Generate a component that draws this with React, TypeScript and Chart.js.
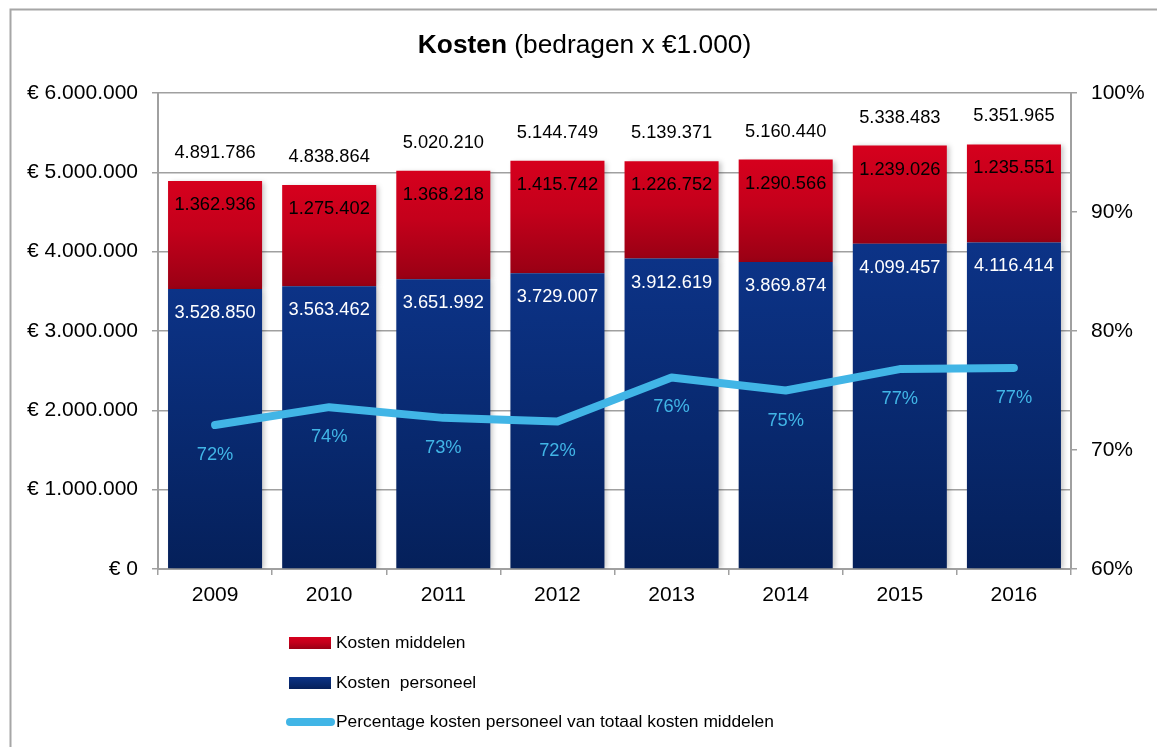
import React, { useEffect, useRef } from "react";
import { Chart, registerables } from "chart.js";

Chart.register(...registerables);

const years = ["2009", "2010", "2011", "2012", "2013", "2014", "2015", "2016"];
const kostenPersoneel = [3528850, 3563462, 3651992, 3729007, 3912619, 3869874, 4099457, 4116414];
const kostenMiddelen = [1362936, 1275402, 1368218, 1415742, 1226752, 1290566, 1239026, 1235551];
const percentagePersoneel = [72.1, 73.6, 72.7, 72.4, 76.1, 75.0, 76.8, 76.9];
const legendLabels = [
  "Kosten middelen",
  "Kosten  personeel",
  "Percentage kosten personeel van totaal kosten middelen",
];

const FONT = "'Liberation Sans', Arial, Helvetica, sans-serif";
const LINE_COLOR = "#41b5e6";

function fmtNL(v: number): string {
  const s = Math.round(v).toString();
  return s.replace(/\B(?=(\d{3})+(?!\d))/g, ".");
}

function redGrad(ctx: CanvasRenderingContext2D, top: number, bottom: number) {
  const g = ctx.createLinearGradient(0, top, 0, bottom);
  g.addColorStop(0, "#d6001d");
  g.addColorStop(0.45, "#c4001b");
  g.addColorStop(1, "#990014");
  return g;
}
function blueGrad(ctx: CanvasRenderingContext2D, top: number, bottom: number) {
  const g = ctx.createLinearGradient(0, top, 0, bottom);
  g.addColorStop(0, "#0c3387");
  g.addColorStop(1, "#05205a");
  return g;
}

export default function App() {
  const ref = useRef<HTMLCanvasElement | null>(null);

  useEffect(() => {
    document.body.style.margin = "0";
    const canvas = ref.current!;

    const framePlugin = {
      id: "frame",
      beforeDraw(chart: any) {
        const c = chart.ctx;
        c.save();
        c.fillStyle = "#ffffff";
        c.fillRect(0, 0, chart.width, chart.height);
        c.strokeStyle = "#a6a6a6";
        c.lineWidth = 2;
        c.beginPath();
        c.moveTo(10.5, chart.height);
        c.lineTo(10.5, 9.5);
        c.lineTo(chart.width, 9.5);
        c.stroke();
        c.restore();
      },
    };

    const titlePlugin = {
      id: "titleMixed",
      afterDraw(chart: any) {
        const c = chart.ctx;
        c.save();
        c.textBaseline = "middle";
        c.fillStyle = "#000";
        const bold = "Kosten";
        const rest = " (bedragen x €1.000)";
        c.font = `bold 26.3px ${FONT}`;
        const wb = c.measureText(bold).width;
        c.font = `26.3px ${FONT}`;
        const wr = c.measureText(rest).width;
        const cx = 584.5;
        const x0 = cx - (wb + wr) / 2;
        c.font = `bold 26.3px ${FONT}`;
        c.textAlign = "left";
        c.fillText(bold, x0, 46);
        c.font = `26.3px ${FONT}`;
        c.fillText(rest, x0 + wb, 46);
        c.restore();
      },
    };

    const shadowPlugin = {
      id: "barShadow",
      beforeDatasetDraw(chart: any, args: any) {
        if (args.meta.type !== "bar") return;
        const c = chart.ctx;
        c.save();
        c.shadowColor = "rgba(0,0,0,0.22)";
        c.shadowBlur = 5;
        c.shadowOffsetX = 3;
        c.shadowOffsetY = 1;
      },
      afterDatasetDraw(chart: any, args: any) {
        if (args.meta.type !== "bar") return;
        chart.ctx.restore();
      },
    };

    const labelsPlugin = {
      id: "valueLabels",
      afterDatasetsDraw(chart: any) {
        const c = chart.ctx;
        const lineMeta = chart.getDatasetMeta(0);
        const blueMeta = chart.getDatasetMeta(1);
        const redMeta = chart.getDatasetMeta(2);
        c.save();
        c.textAlign = "center";
        c.textBaseline = "middle";
        c.font = `18.3px ${FONT}`;
        years.forEach((_, i) => {
          const b = blueMeta.data[i];
          const r = redMeta.data[i];
          c.fillStyle = "#ffffff";
          c.fillText(fmtNL(kostenPersoneel[i]), b.x, b.y + 24);
          c.fillStyle = "#000000";
          c.fillText(fmtNL(kostenMiddelen[i]), r.x, r.y + 24);
          c.fillText(fmtNL(kostenPersoneel[i] + kostenMiddelen[i]), r.x, r.y - 28);
          const p = lineMeta.data[i];
          c.fillStyle = LINE_COLOR;
          c.fillText(Math.round(percentagePersoneel[i]) + "%", p.x, p.y + 30);
        });
        c.restore();
      },
    };

    const legendPlugin = {
      id: "legendCustom",
      afterDraw(chart: any) {
        const c = chart.ctx;
        c.save();
        const bx = 289;
        const bw = 42;
        const tx = 336;
        c.font = `17.4px ${FONT}`;
        c.textAlign = "left";
        c.textBaseline = "middle";
        c.fillStyle = redGrad(c, 637, 649);
        c.fillRect(bx, 637, bw, 12);
        c.fillStyle = "#000";
        c.fillText(legendLabels[0], tx, 643);
        c.fillStyle = blueGrad(c, 677, 689);
        c.fillRect(bx, 677, bw, 12);
        c.fillStyle = "#000";
        c.fillText(legendLabels[1], tx, 683);
        c.strokeStyle = LINE_COLOR;
        c.lineWidth = 8;
        c.lineCap = "round";
        c.beginPath();
        c.moveTo(bx + 1, 722);
        c.lineTo(bx + 42, 722);
        c.stroke();
        c.fillStyle = "#000";
        c.fillText(legendLabels[2], tx, 722);
        c.restore();
      },
    };

    const segGradient = (isRed: boolean) => (ctx: any) => {
      const chart = ctx.chart;
      const { chartArea, scales } = chart;
      if (!chartArea || !scales || !scales.y || ctx.dataIndex === undefined) {
        return isRed ? "#c4001b" : "#0a2b74";
      }
      const i = ctx.dataIndex;
      const y = scales.y;
      const start = isRed ? kostenPersoneel[i] : 0;
      const end = isRed ? kostenPersoneel[i] + kostenMiddelen[i] : kostenPersoneel[i];
      const top = y.getPixelForValue(end);
      const bottom = y.getPixelForValue(start);
      if (!isFinite(top) || !isFinite(bottom) || top === bottom) {
        return isRed ? "#c4001b" : "#0a2b74";
      }
      return isRed ? redGrad(chart.ctx, top, bottom) : blueGrad(chart.ctx, top, bottom);
    };

    const gridColor = "#a0a0a0";

    const chart = new Chart(canvas, {
      type: "bar",
      data: {
        labels: years,
        datasets: [
          {
            type: "line",
            label: legendLabels[2],
            data: percentagePersoneel,
            yAxisID: "y1",
            borderColor: LINE_COLOR,
            backgroundColor: LINE_COLOR,
            borderWidth: 8,
            pointRadius: 0,
            tension: 0,
            order: 0,
            borderCapStyle: "round",
            borderJoinStyle: "round",
          } as any,
          {
            type: "bar",
            label: legendLabels[1],
            data: kostenPersoneel,
            yAxisID: "y",
            backgroundColor: segGradient(false),
            borderWidth: 0,
            order: 1,
            categoryPercentage: 1,
            barPercentage: 0.824,
          },
          {
            type: "bar",
            label: legendLabels[0],
            data: kostenMiddelen,
            yAxisID: "y",
            backgroundColor: segGradient(true),
            borderWidth: 0,
            order: 2,
            categoryPercentage: 1,
            barPercentage: 0.824,
          },
        ],
      },
      options: {
        responsive: false,
        animation: false,
        devicePixelRatio: 1,
        layout: { padding: { top: 93, left: 0, right: 0, bottom: 0 } },
        plugins: {
          legend: { display: false },
          tooltip: { enabled: false },
          title: { display: false },
        },
        scales: {
          x: {
            stacked: true,
            offset: true,
            grid: {
              display: true,
              drawOnChartArea: false,
              drawTicks: true,
              tickLength: 6,
              color: gridColor,
              lineWidth: 1.5,
              offset: true,
            },
            border: { display: true, color: gridColor, width: 2 },
            ticks: {
              color: "#000",
              font: { family: FONT, size: 21 },
              padding: 8,
              maxRotation: 0,
            },
            afterFit: (scale: any) => {
              scale.height = 747 - 569;
            },
          },
          y: {
            stacked: true,
            position: "left",
            min: 0,
            max: 6000000,
            grid: {
              color: gridColor,
              lineWidth: 1.5,
              tickLength: 6,
              drawTicks: true,
            },
            border: { display: true, color: gridColor, width: 2 },
            ticks: {
              stepSize: 1000000,
              color: "#000",
              font: { family: FONT, size: 21 },
              padding: 14,
              callback: (v: any) => "€ " + fmtNL(Number(v)),
            },
            afterFit: (scale: any) => {
              scale.width = 158;
            },
          },
          y1: {
            position: "right",
            min: 60,
            max: 100,
            grid: {
              drawOnChartArea: false,
              color: gridColor,
              lineWidth: 1.5,
              tickLength: 6,
              drawTicks: true,
            },
            border: { display: true, color: gridColor, width: 2 },
            ticks: {
              stepSize: 10,
              color: "#000",
              font: { family: FONT, size: 21 },
              padding: 14,
              callback: (v: any) => v + "%",
            },
            afterFit: (scale: any) => {
              scale.width = 1157 - 1071;
            },
          },
        },
      },
      plugins: [framePlugin, shadowPlugin, labelsPlugin, titlePlugin, legendPlugin],
    });

    return () => {
      chart.destroy();
    };
  }, []);

  return (
    <div style={{ width: 1157, height: 747 }}>
      <canvas ref={ref} width={1157} height={747} style={{ display: "block" }} />
    </div>
  );
}
